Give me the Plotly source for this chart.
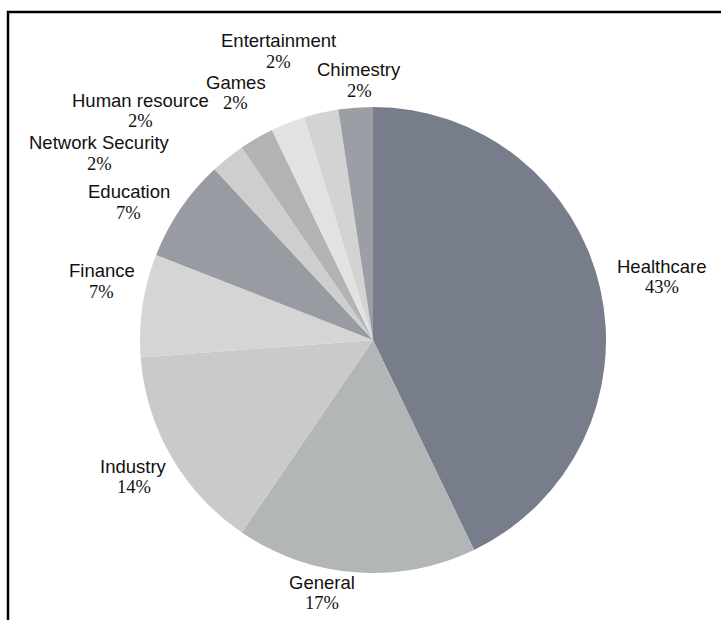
import math
import plotly.graph_objects as go

categories = ["Healthcare", "General", "Industry", "Finance", "Education",
              "Network Security", "Human resource", "Games", "Entertainment", "Chimestry"]
counts = [18, 7, 6, 3, 3, 1, 1, 1, 1, 1]
colors = ["#777d8a", "#b3b6b7", "#cacaca", "#d5d5d5", "#989ba1",
          "#cecece", "#b1b3b5", "#e2e2e2", "#d3d3d3", "#9b9ea4"]
# label nudges (pixels, screen: +x right, +y down) from the default radial spot
label_dx = [16, -30, 3, 5, -13, -99, -93, -35, -32, 7]
label_dy = [-1, -26, -3, -17, 20, 32, 13, 13, -16, 19]

W, H = 721, 620
ml, mr, mt, mb = 140, 115, 107, 47
pw, ph = W - ml - mr, H - mt - mb
R = min(pw, ph) / 2
cx, cy = ml + pw / 2, mt + ph / 2

def px(x):
    return (x - ml) / pw

def py(y):
    return 1 - (y - mt) / ph

fig = go.Figure(go.Pie(
    labels=categories,
    values=counts,
    sort=False,
    direction="clockwise",
    rotation=0,
    marker=dict(colors=colors, line=dict(width=0)),
    textinfo="none",
    showlegend=False,
    hoverinfo="label+percent",
))

total = sum(counts)
cum = 0
LINE = 10.5
for cat, v, dx, dy in zip(categories, counts, label_dx, label_dy):
    mid = (cum + v / 2) / total * 2 * math.pi
    cum += v
    bx = cx + 1.2 * R * math.sin(mid)
    by = cy - 1.2 * R * math.cos(mid)
    pct = f"{round(v / total * 100)}%"
    fig.add_annotation(x=px(bx), y=py(by), xref="paper", yref="paper",
                       text=cat, showarrow=False, xanchor="center", yanchor="middle",
                       xshift=dx, yshift=-dy + LINE,
                       font=dict(family="Liberation Sans, Arial, sans-serif", size=18.5, color="#111111"))
    fig.add_annotation(x=px(bx), y=py(by), xref="paper", yref="paper",
                       text=pct, showarrow=False, xanchor="center", yanchor="middle",
                       xshift=dx, yshift=-dy - LINE,
                       font=dict(family="Liberation Serif, Times New Roman, serif", size=18.5, color="#111111"))

fig.add_shape(type="path", xref="paper", yref="paper",
              path=f"M {px(8)},{py(H+5)} L {px(8)},{py(12)} L {px(W+5)},{py(12)}",
              line=dict(color="black", width=2.5))

fig.update_layout(
    width=W, height=H,
    margin=dict(l=ml, r=mr, t=mt, b=mb, autoexpand=False),
    paper_bgcolor="white", plot_bgcolor="white",
)

fig.write_html("out.html")
